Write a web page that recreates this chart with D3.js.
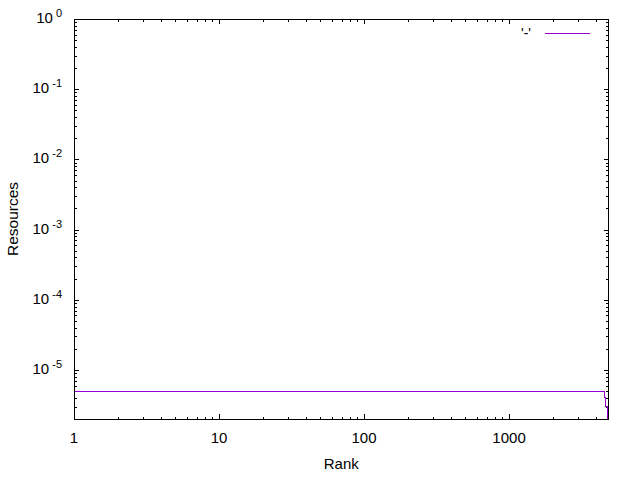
<!DOCTYPE html>
<html>
<head>
<meta charset="utf-8">
<script src="https://cdn.jsdelivr.net/npm/d3@7"></script>
<style>
  body { margin: 0; background: #fff; }
  svg { display: block; font-family: 'Liberation Sans', Arial, sans-serif; }
</style>
</head>
<body>
<div id="chart"></div>
<script>
// step series: rank where the value starts, and its value
const ranks = [1, 4520, 4590, 4760, 4850]
const resources = [5e-6, 4e-6, 3e-6, 1e-6, 1e-6]

const xMajorTicks = [1, 10, 100, 1000]
const yMajorExponents = [0, -1, -2, -3, -4, -5]
const xLabel = 'Rank'
const yLabel = 'Resources'
const seriesTitle = "'-'"

const WIDTH = 640
const HEIGHT = 480
const MARGIN = { left: 74, right: 31.5, top: 19, bottom: 61 }
const PLOT_W = WIDTH - MARGIN.left - MARGIN.right
const PLOT_H = HEIGHT - MARGIN.top - MARGIN.bottom
const LINE_COLOR = '#9400d3'
const MAJOR = 5
const MINOR = 2.5

const X_DOMAIN = [1, 4850]
const Y_DOMAIN = [2e-6, 1]

const svg = d3.select('#chart')
  .append('svg')
  .attr('width', WIDTH)
  .attr('height', HEIGHT)

const g = svg.append('g')
  .attr('transform', 'translate(' + MARGIN.left + ',' + MARGIN.top + ')')

const x = d3.scaleLog().domain(X_DOMAIN).range([0, PLOT_W])
const y = d3.scaleLog().domain(Y_DOMAIN).range([PLOT_H, 0])

// minor ticks 2..9 per decade, inside the domain
function minorTicks (domain) {
  const out = []
  const lo = Math.floor(Math.log10(domain[0]))
  const hi = Math.ceil(Math.log10(domain[1]))
  for (let e = lo; e < hi; e++) {
    for (let m = 2; m <= 9; m++) {
      const v = m * Math.pow(10, e)
      if (v >= domain[0] && v <= domain[1]) out.push(v)
    }
  }
  return out
}

const yMajorTicks = yMajorExponents.map(e => Math.pow(10, e))

function drawTicks (axisFn, scale, major, minor, transform) {
  const a = g.append('g').attr('transform', transform)
  a.call(axisFn(scale).tickValues(major).tickSize(-MAJOR).tickFormat(''))
    .call(s => s.select('.domain').remove())
  const b = g.append('g').attr('transform', transform)
  b.call(axisFn(scale).tickValues(minor).tickSize(-MINOR).tickFormat(''))
    .call(s => s.select('.domain').remove())
  g.selectAll('.tick line').attr('stroke', '#000').attr('shape-rendering', 'crispEdges')
}

drawTicks(d3.axisBottom, x, xMajorTicks, minorTicks(X_DOMAIN), 'translate(0,' + PLOT_H + ')')
drawTicks(d3.axisTop, x, xMajorTicks, minorTicks(X_DOMAIN), 'translate(0,0)')
drawTicks(d3.axisLeft, y, yMajorTicks, minorTicks(Y_DOMAIN), 'translate(0,0)')
drawTicks(d3.axisRight, y, yMajorTicks, minorTicks(Y_DOMAIN), 'translate(' + PLOT_W + ',0)')

// data line (steps)
g.append('clipPath').attr('id', 'plot-clip')
  .append('rect').attr('width', PLOT_W).attr('height', PLOT_H)

const points = ranks.map((r, i) => [r, resources[i]])
g.append('path')
  .datum(points)
  .attr('clip-path', 'url(#plot-clip)')
  .attr('fill', 'none')
  .attr('stroke', LINE_COLOR)
  .attr('stroke-width', 1)
  .attr('shape-rendering', 'crispEdges')
  .attr('d', d3.line()
    .x(d => x(d[0]))
    .y(d => y(d[1]))
    .curve(d3.curveStepAfter))

// border
g.append('rect')
  .attr('width', PLOT_W)
  .attr('height', PLOT_H)
  .attr('fill', 'none')
  .attr('stroke', '#000')
  .attr('stroke-width', 1)
  .attr('shape-rendering', 'crispEdges')

// x tick labels
g.append('g')
  .selectAll('text')
  .data(xMajorTicks)
  .enter()
  .append('text')
  .attr('x', d => x(d))
  .attr('y', PLOT_H + 24)
  .attr('text-anchor', 'middle')
  .style('font-size', '15px')
  .text(d => d)

// y tick labels 10^e
const yLabels = g.append('g')
  .selectAll('text')
  .data(yMajorExponents)
  .enter()
  .append('text')
  .attr('x', -12)
  .attr('y', d => y(Math.pow(10, d)) + 4)
  .attr('text-anchor', 'end')
  .style('font-size', '15px')
yLabels.append('tspan').text('10')
yLabels.append('tspan')
  .attr('dx', 3)
  .attr('dy', -6)
  .style('font-size', '11px')
  .text(d => d)

// axis titles
svg.append('text')
  .attr('x', MARGIN.left + PLOT_W / 2)
  .attr('y', 469)
  .attr('text-anchor', 'middle')
  .style('font-size', '15px')
  .text(xLabel)

svg.append('text')
  .attr('transform', 'translate(18,' + (MARGIN.top + PLOT_H / 2) + ') rotate(-90)')
  .attr('text-anchor', 'middle')
  .style('font-size', '15.5px')
  .text(yLabel)

// key
svg.append('text')
  .attr('x', 531)
  .attr('y', 38)
  .attr('text-anchor', 'end')
  .style('font-size', '14px')
  .text(seriesTitle)
svg.append('line')
  .attr('x1', 545)
  .attr('x2', 590)
  .attr('y1', 33.5)
  .attr('y2', 33.5)
  .attr('stroke', LINE_COLOR)
  .attr('stroke-width', 1)
  .attr('shape-rendering', 'crispEdges')
</script>
</body>
</html>
